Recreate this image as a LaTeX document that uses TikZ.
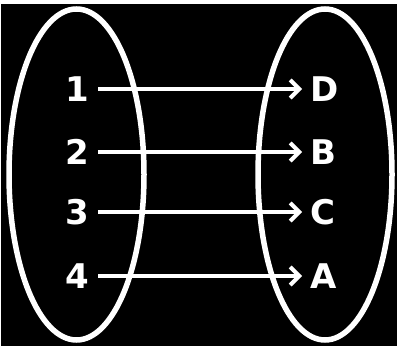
\documentclass[tikz,border=0pt]{standalone}
\usepackage{fontspec}
\setmainfont{DejaVu Sans}
\usetikzlibrary{arrows.meta}
\begin{document}
\begin{tikzpicture}[x=1pt,y=-1pt,
  setoval/.style={draw=white,line width=5.5pt},
  lbl/.style={text=white,inner sep=0pt,font=\fontsize{34}{40}\selectfont\bfseries},
  maparrow/.style={draw=white,line width=4pt,-{Straight Barb[length=9pt,width=18pt,line width=4pt]},shorten <=9pt,shorten >=8pt}]
\useasboundingbox (0,0) rectangle (398,347);
\fill[white] (0,0) rectangle (398,347);
\fill[black] (0.5,4.5) rectangle (396.5,345.5);
\draw[setoval] (76.5,174.5) ellipse [x radius=67.5pt, y radius=165.5pt];
\draw[setoval] (325,174.5) ellipse [x radius=67pt, y radius=165.5pt];
\node[lbl,anchor=east] (n1) at (89,89) {1};
\node[lbl,anchor=east] (n2) at (89,152) {2};
\node[lbl,anchor=east] (n3) at (89,212) {3};
\node[lbl,anchor=east] (n4) at (89,276) {4};
\node[lbl,anchor=west] (nD) at (310,89) {D};
\node[lbl,anchor=west] (nB) at (310,152) {B};
\node[lbl,anchor=west] (nC) at (310,212) {C};
\node[lbl,anchor=west] (nA) at (310,276) {A};
\draw[maparrow] (n1.east) -- (nD.west);
\draw[maparrow] (n2.east) -- (nB.west);
\draw[maparrow] (n3.east) -- (nC.west);
\draw[maparrow] (n4.east) -- (nA.west);
\end{tikzpicture}
\end{document}
